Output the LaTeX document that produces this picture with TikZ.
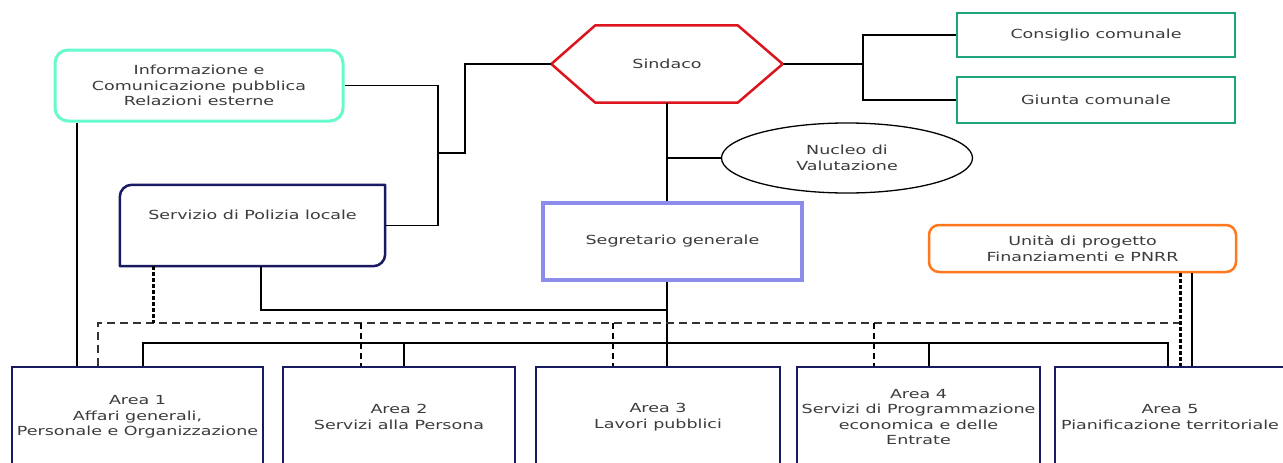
\documentclass[tikz,border=0pt]{standalone}
\usepackage{fontspec}
\setmainfont{DejaVu Sans}[FakeStretch=1.4]
\usetikzlibrary{shapes.geometric}
\definecolor{aquab}{RGB}{102,250,204}
\definecolor{tealb}{RGB}{30,165,125}
\definecolor{redb}{RGB}{220,20,30}
\definecolor{lavb}{RGB}{140,140,235}
\definecolor{orangeb}{RGB}{255,120,30}
\definecolor{navyb}{RGB}{25,25,100}
\definecolor{txtgray}{RGB}{60,60,60}
\newcommand{\txtfont}{\fontsize{12.5}{15.5}\selectfont}
\begin{document}
\begin{tikzpicture}[x=1pt,y=-1pt,
  basebox/.style={inner sep=0pt, align=center, font=\txtfont, text=txtgray},
  infobox/.style={basebox, draw=aquab, line width=3pt, rounded corners=13pt},
  greenbox/.style={basebox, draw=tealb, line width=2.5pt},
  segbox/.style={basebox, draw=lavb, line width=4pt},
  unitbox/.style={basebox, draw=orangeb, line width=2.5pt, rounded corners=10pt},
  areabox/.style={basebox, draw=navyb, line width=2.5pt},
  outline/.style={line width=2.5pt, line join=round},
  conn/.style={line width=1.3pt, black},
  dashbus/.style={line width=1.3pt, black!80, dash pattern=on 8pt off 5pt},
  thickdash/.style={line width=3pt, black, dash pattern=on 4pt off 2pt},
  thindash/.style={line width=1.3pt, black, dash pattern=on 6pt off 4pt}]
\useasboundingbox (0,0) rectangle (1283,463);
\clip (0,0) rectangle (1283,463);
\fill[white] (0,0) rectangle (1283,463);

% nodes
\node[infobox, minimum width=288, minimum height=71] (info) at (199,85.5)
  {Informazione e\\Comunicazione pubblica\\Relazioni esterne};
\node[basebox, minimum width=231, minimum height=77] (sind) at (667,64) {Sindaco};
\draw[redb, outline] (sind.west) -- ([xshift=44pt]sind.north west) -- ([xshift=-45pt]sind.north east)
  -- (sind.east) -- ([xshift=-45pt]sind.south east) -- ([xshift=44pt]sind.south west) -- cycle;
\node[greenbox, minimum width=278, minimum height=44] (cons) at (1096,35) {Consiglio comunale};
\node[greenbox, minimum width=278, minimum height=46] (giu) at (1096,100) {Giunta comunale};
\node[basebox, draw=black, line width=1.3pt, ellipse, minimum width=251, minimum height=70] (nuc) at (847,158)
  {Nucleo di\\Valutazione};
\node[basebox, minimum width=265, minimum height=81] (pol) at (252.5,225.5) {};
\draw[navyb, outline] (pol.south west) -- ([yshift=-12pt]pol.north west) to[out=90,in=180]
  ([xshift=12pt]pol.north west) -- (pol.north east) -- ([yshift=12pt]pol.south east) to[out=-90,in=0]
  ([xshift=-12pt]pol.south east) -- cycle;
\node[basebox] (poltxt) at (252.5,215) {Servizio di Polizia locale};
\node[segbox, minimum width=259, minimum height=77] (seg) at (672.5,241.5) {Segretario generale};
\node[unitbox, minimum width=307, minimum height=47] (unit) at (1082.5,248.5)
  {Unità di progetto\\Finanziamenti e PNRR};

\node[areabox, minimum width=251, minimum height=100] (a1) at (137.5,417)
  {Area 1\\Affari generali,\\Personale e Organizzazione};
\node[areabox, minimum width=232, minimum height=100] (a2) at (399,417)
  {Area 2\\Servizi alla Persona};
\node[areabox, minimum width=244, minimum height=100] (a3) at (658,417)
  {Area 3\\Lavori pubblici};
\node[areabox, minimum width=243, minimum height=100] (a4) at (918.5,417)
  {Area 4\\Servizi di Programmazione\\economica e delle\\Entrate};
\node[areabox, minimum width=245, minimum height=100] (a5) at (1177.5,417) {};
\node[basebox] (a5txt) at (1170,417) {Area 5\\Pianificazione territoriale};

% junction coordinates
\coordinate (vL) at (438,0);
\coordinate (jS) at (438,153);
\coordinate (kS) at (465,153);
\coordinate (jR) at (863,64);
\coordinate (x77) at (77,0);
\coordinate (pj) at (261,310);
\coordinate (mj) at (667,310);
\coordinate (b1) at (143,343);
\coordinate (b2) at (404,343);
\coordinate (b4) at (929,343);
\coordinate (b5) at (1168,343);
\coordinate (d1) at (98,323);
\coordinate (d2) at (361,323);
\coordinate (d3) at (613,323);
\coordinate (d4) at (874,323);
\coordinate (d5) at (1180,323);
\coordinate (dp) at (153,323);
\coordinate (us) at (1192,0);

% solid connectors
\draw[conn] (info.east) -| (vL |- pol.east) -- (pol.east);
\draw[conn] (jS) -- (kS) |- (sind.west);
\draw[conn] (sind.east) -- (jR);
\draw[conn] (cons.west) -| (jR) |- (giu.west);
\draw[conn] (sind.south) -- (sind.south |- seg.north);
\draw[conn] (sind.south |- nuc.west) -- (nuc.west);
\draw[conn] (info.south -| x77) -- (a1.north -| x77);
\draw[conn] (pol.south -| pj) -- (pj) -- (mj);
\draw[conn] (sind.south |- seg.south) -- (sind.south |- a3.north);
\draw[conn] (b1 |- a1.north) -- (b1) -- (b5) -- (b5 |- a5.north);
\draw[conn] (b2) -- (b2 |- a2.north);
\draw[conn] (b4) -- (b4 |- a4.north);
\draw[conn] (unit.south -| us) -- (a5.north -| us);

% dashed connectors
\draw[dashbus] (d1 |- a1.north) -- (d1) -- (d5);
\draw[thindash] (d2) -- (d2 |- a2.north);
\draw[thindash] (d3) -- (d3 |- a3.north);
\draw[thindash] (d4) -- (d4 |- a4.north);
\draw[thickdash] (pol.south -| dp) -- (dp);
\draw[thickdash] (unit.south -| d5) -- (a5.north -| d5);
\end{tikzpicture}
\end{document}
